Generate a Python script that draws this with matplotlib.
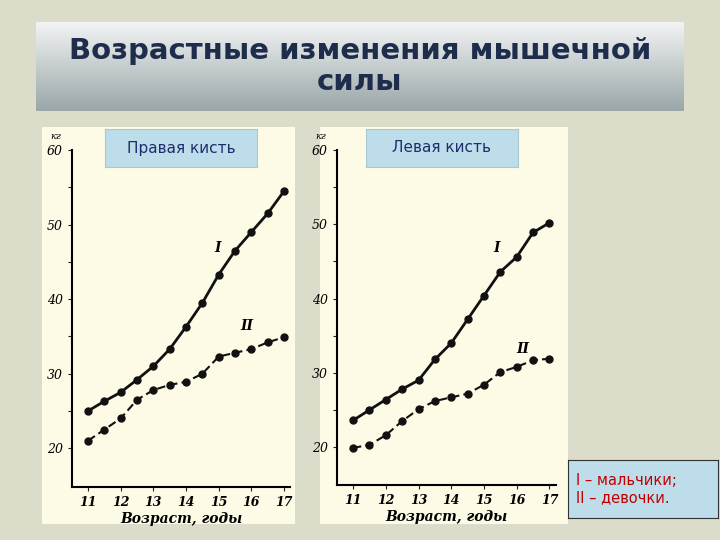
import matplotlib
matplotlib.use("Agg")
import matplotlib.pyplot as plt
import numpy as np

ages = [11, 11.5, 12, 12.5, 13, 13.5, 14, 14.5, 15, 15.5, 16, 16.5, 17]
right_boys = [25, 26.3, 27.5, 29.2, 31, 33.3, 36.3, 39.5, 43.3, 46.5, 49, 51.5, 54.5]
right_girls = [21, 22.5, 24, 26.5, 27.8, 28.5, 28.9, 30, 32.3, 32.8, 33.3, 34.2, 34.9]
left_boys = [23.6, 25, 26.4, 27.8, 29, 31.8, 34, 37.2, 40.4, 43.6, 45.6, 48.9, 50.2]
left_girls = [19.9, 20.3, 21.6, 23.5, 25.1, 26.2, 26.7, 27.2, 28.4, 30.1, 30.8, 31.7, 31.9]
xticks = [11, 12, 13, 14, 15, 16, 17]
yticks = [20, 30, 40, 50, 60]

W, H = 720, 540
fig = plt.figure(figsize=(7.2, 5.4), dpi=100)
fig.patch.set_facecolor("#dcdccb")

def box(x0, y0, x1, y1):
    return [x0 / W, 1 - y1 / H, (x1 - x0) / W, (y1 - y0) / H]

tax = fig.add_axes(box(36, 22, 684, 111))
grad = np.linspace(0, 1, 100).reshape(-1, 1)
tax.imshow(grad, aspect="auto", cmap=matplotlib.colors.LinearSegmentedColormap.from_list("g", ["#f2f4f4", "#9aa6a8"]), extent=[0, 1, 0, 1])
tax.set_axis_off()
tax.text(0.5, 0.5, "Возрастные изменения мышечной\nсилы", ha="center", va="center",
         fontsize=21, fontweight="bold", color="#1f2d4d", family="DejaVu Sans", linespacing=1.1)

serif = {"family": "DejaVu Serif", "style": "italic"}

def panel(bg, axbox, title_box, title, boys, girls, lab1, lab2, xl, yl):
    b = fig.add_axes(box(*bg))
    b.set_facecolor("#fdfbe6")
    b.set_xticks([]); b.set_yticks([])
    for s in b.spines.values():
        s.set_visible(False)
    ax = fig.add_axes(box(*axbox))
    ax.patch.set_alpha(0)
    ax.plot(ages, boys, "-o", color="#111", lw=2, ms=5)
    ax.plot(ages, girls, "--o", color="#111", lw=1.5, ms=5, dashes=(4, 2))
    ax.set_xlim(*xl); ax.set_ylim(*yl)
    ax.set_xticks(xticks)
    ax.set_xticklabels([str(t) for t in xticks], fontdict=dict(serif, size=9, weight="bold"))
    ax.set_yticks(np.arange(20, 61, 5))
    ax.set_yticklabels([str(t) if t % 10 == 0 else "" for t in np.arange(20, 61, 5)],
                       fontdict=dict(serif, size=9))
    ax.spines["top"].set_visible(False); ax.spines["right"].set_visible(False)
    ax.spines["left"].set_linewidth(1.5); ax.spines["bottom"].set_linewidth(1.5)
    ax.tick_params(length=3, color="#222")
    ax.set_xlabel("Возраст, годы", fontdict=dict(serif, size=10, weight="bold"), labelpad=2)
    ax.text(-0.075, 1.04, "кг", transform=ax.transAxes, ha="center", va="center", fontdict=dict(serif, size=7))
    ax.text(*lab1, "I", fontdict=dict(serif, size=10, weight="bold"))
    ax.text(*lab2, "II", fontdict=dict(serif, size=10, weight="bold"))
    t = fig.add_axes(box(*title_box))
    t.set_facecolor("#bcdde9")
    t.set_xticks([]); t.set_yticks([])
    for s in t.spines.values():
        s.set_color("#a8c8d4")
    t.text(0.5, 0.5, title, ha="center", va="center", fontsize=11, color="#1f2d6d")

panel((42, 127, 295, 524), (72, 150, 290, 487), (105, 129, 257, 167), "Правая кисть",
      right_boys, right_girls, (14.85, 46.3), (15.65, 35.8), (10.51, 17.18), (14.8, 60))
panel((320, 127, 568, 524), (337, 150, 556, 485), (366, 129, 518, 167), "Левая кисть",
      left_boys, left_girls, (15.3, 46.3), (16.0, 32.7), (10.51, 17.2), (14.9, 60))

lg = fig.add_axes(box(568, 460, 718, 518))
lg.set_facecolor("#bcdde9")
lg.set_xticks([]); lg.set_yticks([])
for s in lg.spines.values():
    s.set_color("#333")
lg.text(0.05, 0.5, "I – мальчики;\nII – девочки.", ha="left", va="center", fontsize=10.5, color="#c00000")

fig.savefig("out.png", dpi=100, facecolor=fig.get_facecolor())
